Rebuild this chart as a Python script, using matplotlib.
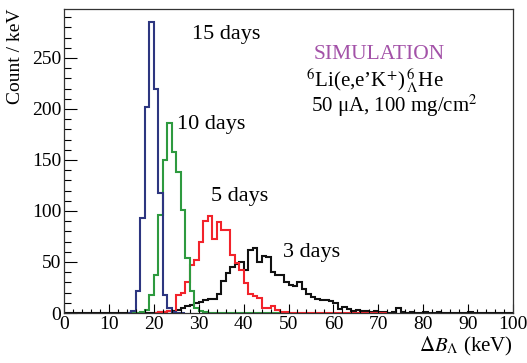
import numpy as np
import matplotlib
matplotlib.use("Agg")
import matplotlib.pyplot as plt
from matplotlib.ticker import MultipleLocator

# ---------------- data (1 keV bins) ----------------
bin_width = 1.0

days15_start = 14
days15_counts = [0, 2, 22, 93, 202, 285, 220, 118, 18, 5, 1, 0, 0]

days10_start = 14
days10_counts = [0, 0, 0, 1, 3, 18, 37, 96, 150, 186, 158, 138, 101, 54, 22, 5, 2, 1,
                 0, 0, 0, 0, 0, 0, 0, 0, 0, 0, 0, 0, 0, 0, 0, 0]

days5_start = 20
days5_counts = [0, 1, 1, 2, 1, 18, 20, 30, 47, 52, 70, 90, 95, 73, 89, 81, 81, 57, 49, 42,
                29, 19, 17, 15, 5, 5, 7, 3, 1, 1,
                0, 0, 0, 0, 0, 0, 0, 0, 0, 0, 0, 0, 0, 0, 0, 0, 0, 0, 0, 0, 0, 0]

days3_start = 0
days3_counts = [0] * 21 + [1, 1, 2, 2, 3, 5, 7, 8, 10, 11, 13, 14, 14, 19, 31, 39, 45, 48, 50,
                           42, 62, 64, 50, 56, 55, 40, 37, 37, 30, 27, 26, 30, 24, 19, 16, 14,
                           13, 13, 12, 10, 4, 6, 4, 2, 3, 2, 2, 1, 2, 1, 1, 0, 1, 5, 1, 0, 1,
                           0, 0, 1, 0, 0, 1, 0, 0, 0, 0, 0, 0, 1, 0, 0, 0, 0, 0, 0, 0, 0, 0]

series_labels = ["3 days", "5 days", "10 days", "15 days"]
series_colors = ["#111111", "#f2232b", "#2e9a3f", "#2d3680"]

x_ticks = [0, 10, 20, 30, 40, 50, 60, 70, 80, 90, 100]
y_ticks = [0, 50, 100, 150, 200, 250]

# ---------------- figure ----------------
plt.rcParams["font.family"] = ["Liberation Serif", "DejaVu Serif"]
plt.rcParams["mathtext.fontset"] = "stix"

W, H = 527, 363
fig = plt.figure(figsize=(W / 100, H / 100), dpi=100)
L, R, T, B = 64, 513, 9, 313
ax = fig.add_axes([L / W, (H - B) / H, (R - L) / W, (B - T) / H])

series = [(days3_start, days3_counts), (days5_start, days5_counts),
          (days10_start, days10_counts), (days15_start, days15_counts)]
for (start, counts), col in zip(series, series_colors):
    vals = np.asarray(counts, dtype=float)
    edges = start + bin_width * np.arange(len(vals) + 1)
    ax.stairs(vals, edges, baseline=0, fill=False, color=col, linewidth=1.5)

ax.set_xlim(0, 100)
ax.set_ylim(0, 298)
ax.set_xticks(x_ticks)
ax.set_yticks(y_ticks)
ax.xaxis.set_minor_locator(MultipleLocator(2))
ax.yaxis.set_minor_locator(MultipleLocator(10))
ax.tick_params(axis="x", which="major", direction="in", length=6.5, width=0.8, labelsize=14, pad=2)
ax.tick_params(axis="x", which="minor", direction="in", length=3.2, width=0.8)
ax.tick_params(axis="y", which="major", direction="in", length=9.7, width=0.8, labelsize=14, pad=2)
ax.tick_params(axis="y", which="minor", direction="in", length=4.8, width=0.8)
for s in ax.spines.values():
    s.set_linewidth(0.9)
    s.set_color("#333333")

fig.text(16 / W, 1 - 9 / H, "Count / keV", rotation=90, ha="center", va="top", fontsize=14)
fig.text(R / W, 1 - 346 / H, r"$\Delta B_{\Lambda}$ (keV)", ha="right", va="center", fontsize=15)

# series annotations
ax.text(28.4, 273, series_labels[3], fontsize=16, ha="left", va="center")
ax.text(25.2, 185, series_labels[2], fontsize=16, ha="left", va="center")
ax.text(32.8, 114, series_labels[1], fontsize=16, ha="left", va="center")
ax.text(48.8, 59, series_labels[0], fontsize=16, ha="left", va="center")

# info text
ax.text(55.5, 253, "SIMULATION", color="#a352a8", fontsize=15.5, ha="left", va="center")
ax.text(54.0, 228, r"$^{6}$Li(e,e’K$^{+}$)$\,^{6}_{\Lambda}$He", fontsize=15, ha="left", va="center")
ax.text(55.0, 203, r"50 μA, 100 mg/cm$^{2}$", fontsize=15, ha="left", va="center")

fig.savefig("out.png", dpi=100)
